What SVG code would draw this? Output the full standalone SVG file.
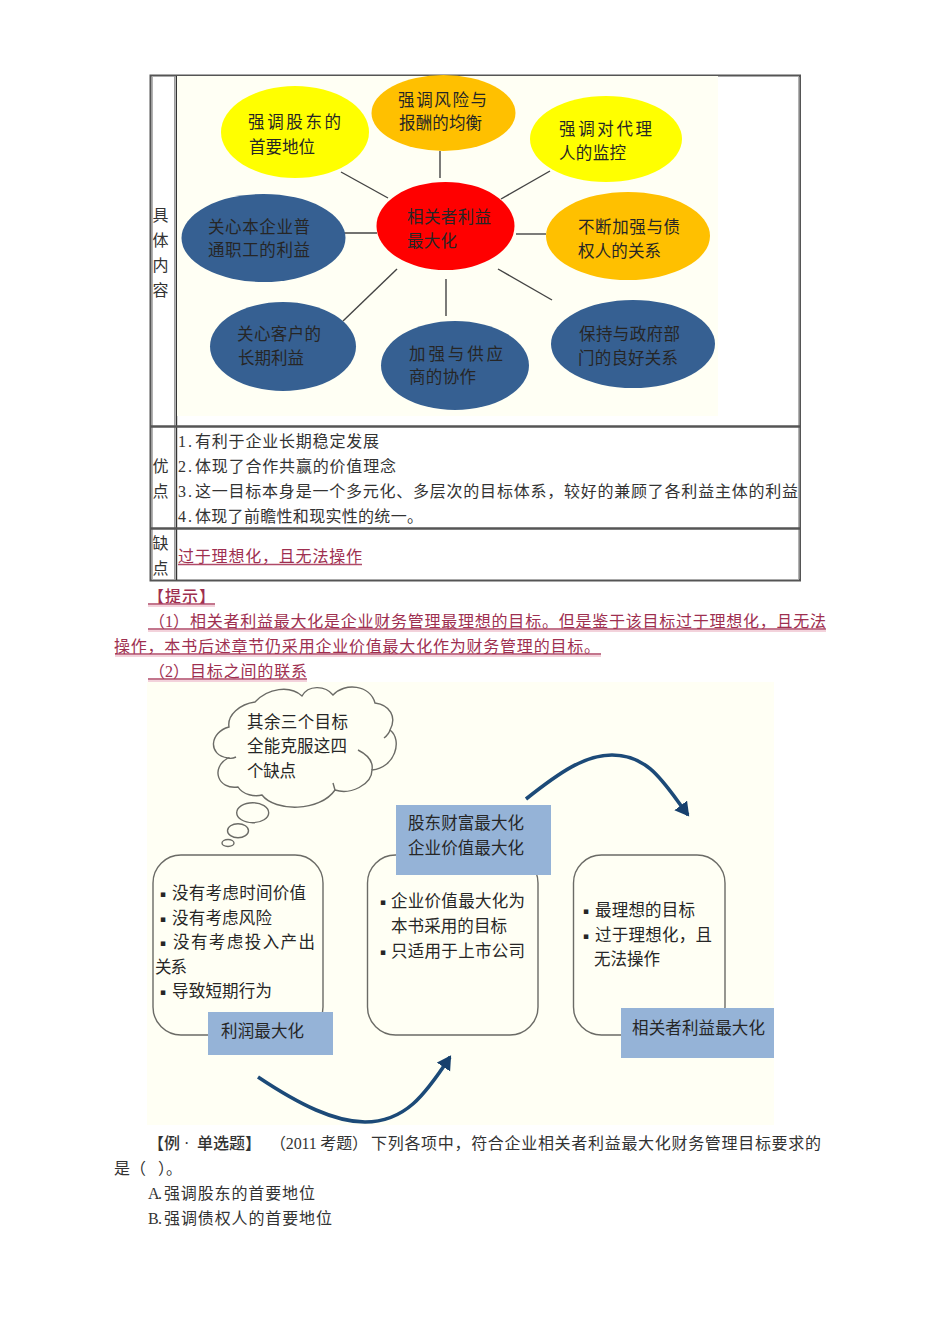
<svg xmlns="http://www.w3.org/2000/svg" width="950" height="1344" viewBox="0 0 950 1344">
<defs>
<marker id="arrow" markerUnits="userSpaceOnUse" markerWidth="18" markerHeight="18" refX="12" refY="8" orient="auto"><path d="M0 0L14 8L0 16Z" fill="#17406d"/></marker>
</defs>
<style>
text{font-family:"Liberation Sans","Noto Sans CJK SC",sans-serif;font-size:16.5px;fill:#262626}
.body{font-family:"Liberation Serif","Noto Sans CJK SC",sans-serif;font-size:16px;fill:#333}
.pink{fill:#9e2f50}
.ul{stroke:#b04a68;stroke-width:1.3}
.ul2{stroke:#efc4d0;stroke-width:1.5}
.link{stroke:#444;stroke-width:1.4;fill:none}
.frame{stroke:#555;fill:none;stroke-width:2}
.grey{stroke:#999;fill:none;stroke-width:1.5}
.box{fill:none;stroke:#6b6b66;stroke-width:1.4}
.tag{fill:#95b3d7}
.y{fill:#ffff00}.o{fill:#ffc000}.r{fill:#ff0000}.b{fill:#366092}
.bu{font-size:9px;font-family:"DejaVu Sans",sans-serif}
.curve{fill:none;stroke:#1c4a78;stroke-width:3.6}
</style>
<rect width="950" height="1344" fill="#ffffff"/>

<g id="table">
<rect x="150.500" y="75.500" width="649.500" height="505" class="frame"/>
<path d="M152 77V579M799 77V579" class="grey"/>
<path d="M176.500 76V580" stroke="#333" stroke-width="1.4" fill="none"/>
<path d="M174.800 76V580" class="grey"/>
<path d="M151 426.500H800M151 528.500H800" stroke="#555" stroke-width="2.600" fill="none"/>
<text class="body" x="152.500" y="221">具</text><text class="body" x="152.500" y="246">体</text><text class="body" x="152.500" y="271">内</text><text class="body" x="152.500" y="296">容</text>
<text class="body" x="152.500" y="472">优</text><text class="body" x="152.500" y="497">点</text>
<text class="body" x="152.500" y="549">缺</text><text class="body" x="152.500" y="574">点</text>
<text class="body" x="178" y="447" textLength="14" lengthAdjust="spacing">1.</text><text class="body" x="195" y="447" textLength="184" lengthAdjust="spacing">有利于企业长期稳定发展</text>
<text class="body" x="178" y="472" textLength="14" lengthAdjust="spacing">2.</text><text class="body" x="195" y="472" textLength="201" lengthAdjust="spacing">体现了合作共赢的价值理念</text>
<text class="body" x="178" y="497" textLength="14" lengthAdjust="spacing">3.</text><text class="body" x="195" y="497" textLength="603" lengthAdjust="spacing">这一目标本身是一个多元化、多层次的目标体系，较好的兼顾了各利益主体的利益</text>
<text class="body" x="178" y="522" textLength="14" lengthAdjust="spacing">4.</text><text class="body" x="195" y="522" textLength="228" lengthAdjust="spacing">体现了前瞻性和现实性的统一。</text>
<text class="body pink" x="178" y="562" textLength="184" lengthAdjust="spacing">过于理想化，且无法操作</text>
<path d="M178 564.500H362" class="ul"/>
</g>

<rect id="chart-bg" x="177" y="76" width="541" height="340" fill="#fffff4"/>

<g id="connectors">
<path d="M341 172L388 198" class="link"/>
<path d="M440 151V178" class="link"/>
<path d="M344 233H377" class="link"/>
<path d="M397 269L343 321" class="link"/>
<path d="M446 279V316" class="link"/>
<path d="M550 171L501 199" class="link"/>
<path d="M516 234H546" class="link"/>
<path d="M498 269L552 300" class="link"/>
</g>

<g id="n-shareholder"><ellipse cx="295" cy="132" rx="74" ry="46" class="y"/><text x="248" y="128" textLength="93" lengthAdjust="spacing">强调股东的</text><text x="249" y="153" textLength="66" lengthAdjust="spacing">首要地位</text></g>
<g id="n-risk"><ellipse cx="443.500" cy="113" rx="72" ry="38" class="o"/><text x="398" y="106" textLength="89" lengthAdjust="spacing">强调风险与</text><text x="399" y="129" textLength="83" lengthAdjust="spacing">报酬的均衡</text></g>
<g id="n-agent"><ellipse cx="606" cy="139" rx="76" ry="43" class="y"/><text x="559" y="135" textLength="93" lengthAdjust="spacing">强调对代理</text><text x="559" y="159" textLength="67" lengthAdjust="spacing">人的监控</text></g>
<g id="n-center"><ellipse cx="445.500" cy="226" rx="69" ry="44" class="r"/><text x="407" y="223" textLength="84" lengthAdjust="spacing">相关者利益</text><text x="407" y="247" textLength="50" lengthAdjust="spacing">最大化</text></g>
<g id="n-creditor"><ellipse cx="628" cy="236" rx="82" ry="44" class="o"/><text x="578" y="233" textLength="102" lengthAdjust="spacing">不断加强与债</text><text x="578" y="257" textLength="83" lengthAdjust="spacing">权人的关系</text></g>
<g id="n-employee"><ellipse cx="263.500" cy="238" rx="82" ry="44" class="b"/><text x="208" y="233" textLength="102" lengthAdjust="spacing">关心本企业普</text><text x="208" y="256" textLength="102" lengthAdjust="spacing">通职工的利益</text></g>
<g id="n-customer"><ellipse cx="283" cy="346.500" rx="73" ry="44.500" class="b"/><text x="237" y="340" textLength="84" lengthAdjust="spacing">关心客户的</text><text x="238" y="364" textLength="66" lengthAdjust="spacing">长期利益</text></g>
<g id="n-supplier"><ellipse cx="455" cy="365.500" rx="74" ry="44.500" class="b"/><text x="409" y="360" textLength="94" lengthAdjust="spacing">加强与供应</text><text x="409" y="383" textLength="67" lengthAdjust="spacing">商的协作</text></g>
<g id="n-government"><ellipse cx="633" cy="344" rx="82" ry="44" class="b"/><text x="579" y="340" textLength="101" lengthAdjust="spacing">保持与政府部</text><text x="578" y="364" textLength="100" lengthAdjust="spacing">门的良好关系</text></g>

<g id="notes">
<text class="body pink" x="148" y="602" textLength="67" lengthAdjust="spacing" style="font-weight:500">【提示】</text>
<path d="M148 604H215M148 629H826M115 654H601M148 679H307" class="ul"/>
<path d="M148 606H215M148 631H826M115 656H601M148 681H307" class="ul2"/>
<text class="body pink" x="149" y="627">（1）</text>
<text class="body pink" x="190" y="627" textLength="636" lengthAdjust="spacing">相关者利益最大化是企业财务管理最理想的目标。但是鉴于该目标过于理想化，且无法</text>
<text class="body pink" x="114" y="652" textLength="486" lengthAdjust="spacing">操作，本书后述章节仍采用企业价值最大化作为财务管理的目标。</text>
<text class="body pink" x="149" y="677">（2）</text>
<text class="body pink" x="190" y="677" textLength="117" lengthAdjust="spacing">目标之间的联系</text>
</g>

<rect id="flow-bg" x="147" y="682" width="627" height="443" fill="#fffff4"/>

<g id="cloud">
<path d="M229 727C210 732 207 755 228 758C210 768 218 790 238 787C243 795 255 797 262 795C275 812 320 812 335 790C350 795 372 785 372 770C395 768 403 740 390 730C397 717 390 705 375 703C370 685 345 682 333 695C325 685 308 685 302 696C290 685 268 688 255 702C240 704 227 715 229 727Z" class="box"/>
<path d="M228 758Q232 759 236 757M335 790L333 783M372 770Q374 758 358 750M390 730Q389 734 384 738" class="box"/>
<ellipse cx="252.700" cy="812.700" rx="16" ry="10" class="box"/>
<ellipse cx="238" cy="830.700" rx="10.500" ry="7" class="box"/>
<ellipse cx="228" cy="843" rx="6" ry="3.500" class="box"/>
<text x="247" y="728" textLength="101" lengthAdjust="spacing">其余三个目标</text>
<text x="247" y="752" textLength="100" lengthAdjust="spacing">全能克服这四</text>
<text x="247" y="777" textLength="49" lengthAdjust="spacing">个缺点</text>
</g>

<g id="n-profit">
<rect x="153" y="855" width="170" height="180" rx="28" class="box"/>
<rect x="208" y="1012" width="125" height="43" class="tag"/>
<text class="bu" x="160" y="897">▪</text><text x="172" y="899" textLength="134" lengthAdjust="spacing">没有考虑时间价值</text>
<text class="bu" x="160" y="922">▪</text><text x="172" y="924" textLength="100" lengthAdjust="spacing">没有考虑风险</text>
<text class="bu" x="160" y="946">▪</text><text x="173" y="948" textLength="142" lengthAdjust="spacing">没有考虑投入产出</text>
<text x="155" y="973" textLength="32" lengthAdjust="spacing">关系</text>
<text class="bu" x="160" y="995">▪</text><text x="172" y="997" textLength="100" lengthAdjust="spacing">导致短期行为</text>
<text x="221" y="1037" textLength="83" lengthAdjust="spacing">利润最大化</text>
</g>

<g id="n-value">
<rect x="367.500" y="855" width="170.500" height="180" rx="28" class="box"/>
<rect x="396" y="805" width="155" height="70" class="tag"/>
<text x="408" y="829" textLength="116" lengthAdjust="spacing">股东财富最大化</text>
<text x="408" y="854" textLength="116" lengthAdjust="spacing">企业价值最大化</text>
<text class="bu" x="380" y="905">▪</text><text x="391" y="907" textLength="134" lengthAdjust="spacing">企业价值最大化为</text>
<text x="391" y="932" textLength="116" lengthAdjust="spacing">本书采用的目标</text>
<text class="bu" x="380" y="955">▪</text><text x="391" y="957" textLength="134" lengthAdjust="spacing">只适用于上市公司</text>
</g>

<g id="n-stakeholder">
<rect x="573.500" y="855" width="151.500" height="180" rx="28" class="box"/>
<rect x="621" y="1008" width="153" height="50" class="tag"/>
<text class="bu" x="583" y="914">▪</text><text x="595" y="916" textLength="100" lengthAdjust="spacing">最理想的目标</text>
<text class="bu" x="583" y="939">▪</text><text x="595" y="941" textLength="117" lengthAdjust="spacing">过于理想化，且</text>
<text x="594" y="965" textLength="66" lengthAdjust="spacing">无法操作</text>
<text x="632" y="1034" textLength="133" lengthAdjust="spacing">相关者利益最大化</text>
</g>

<g id="flow-connectors">
<path d="M258 1077C300 1105 335 1122 365 1122C405 1122 425 1095 450 1057" class="curve" marker-end="url(#arrow)"/>
<path d="M526 799C560 772 585 755 612 755C650 755 665 785 688 815" class="curve" marker-end="url(#arrow)"/>
</g>

<g id="question">
<text class="body" x="148" y="1149" style="font-weight:500">【例<tspan x="184">·</tspan><tspan x="197">单选题】</tspan></text>
<text class="body" x="270" y="1149" textLength="98" lengthAdjust="spacing">（2011 考题）</text>
<text class="body" x="371" y="1149" textLength="450" lengthAdjust="spacing">下列各项中，符合企业相关者利益最大化财务管理目标要求的</text>
<text class="body" x="114" y="1174">是（</text>
<text class="body" x="158" y="1174">）。</text>
<text class="body" x="148" y="1199" textLength="14" lengthAdjust="spacing">A.</text><text class="body" x="164" y="1199" textLength="151" lengthAdjust="spacing">强调股东的首要地位</text>
<text class="body" x="148" y="1224" textLength="14" lengthAdjust="spacing">B.</text><text class="body" x="164" y="1224" textLength="168" lengthAdjust="spacing">强调债权人的首要地位</text>
</g>
</svg>
